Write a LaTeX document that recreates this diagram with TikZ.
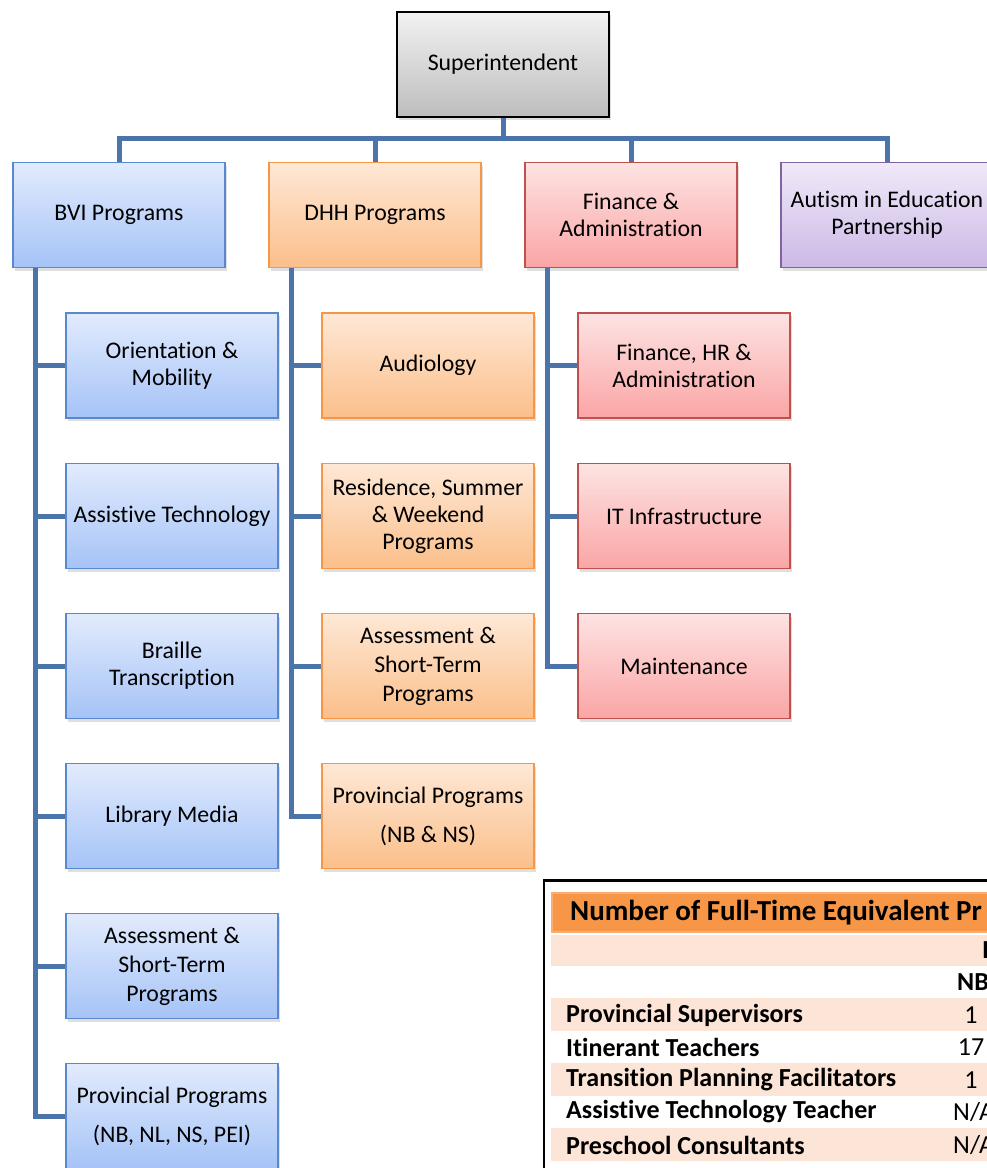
\documentclass[tikz,border=0pt]{standalone}
\usepackage{fontspec}
\setmainfont{Carlito}[Ligatures=NoCommon]
\usetikzlibrary{shadows}
\definecolor{linecol}{HTML}{4A74AA}
\definecolor{bluetop}{HTML}{E2EBFD}
\definecolor{bluebot}{HTML}{A5C3F7}
\definecolor{bluedraw}{HTML}{5A88CC}
\definecolor{orgtop}{HTML}{FEE8D6}
\definecolor{orgbot}{HTML}{FBBF8A}
\definecolor{orgdraw}{HTML}{F79646}
\definecolor{redtop}{HTML}{FDE3E3}
\definecolor{redbot}{HTML}{FBA5A5}
\definecolor{reddraw}{HTML}{C0504D}
\definecolor{purtop}{HTML}{F0E9F9}
\definecolor{purbot}{HTML}{CCB9E6}
\definecolor{purdraw}{HTML}{8064A2}
\definecolor{greytop}{HTML}{F2F2F2}
\definecolor{greybot}{HTML}{BDBDBD}
\definecolor{titlefill}{HTML}{F79646}
\definecolor{titledraw}{HTML}{F9AE74}
\definecolor{peach}{HTML}{FCE4D6}
\tikzset{
  box/.style={rectangle, minimum width=212pt, minimum height=105pt, align=center,
    font=\fontsize{23.8}{27}\selectfont, inner sep=2pt, line width=1.4pt,
    drop shadow={shadow xshift=2pt, shadow yshift=-3pt, opacity=0.25}},
  bluebox/.style={box, draw=bluedraw, top color=bluetop, bottom color=bluebot},
  orgbox/.style={box, draw=orgdraw, top color=orgtop, bottom color=orgbot},
  redbox/.style={box, draw=reddraw, top color=redtop, bottom color=redbot},
  purbox/.style={box, draw=purdraw, top color=purtop, bottom color=purbot},
  greybox/.style={box, draw=black, top color=greytop, bottom color=greybot},
  conn/.style={draw=linecol, line width=5pt},
  rowlab/.style={anchor=west, font=\fontsize{26}{30}\selectfont\bfseries, inner sep=0pt},
  rowval/.style={anchor=center, font=\fontsize{26}{30}\selectfont, inner sep=0pt},
}
\begin{document}
\begin{tikzpicture}[x=1pt,y=-1pt]
\useasboundingbox (0,0) rectangle (987,1168);
\clip (0,0) rectangle (987,1168);
\fill[white] (0,0) rectangle (987,1168);

\coordinate (busy) at (0,138);
\coordinate (bs) at (35,268);
\coordinate (ds) at (291,268);
\coordinate (fs) at (547,268);

% nodes
\node[greybox] (sup) at (503,64.5) {Superintendent};
\node[bluebox] (bvi) at (119,215) {BVI Programs};
\node[orgbox] (dhh) at (375,215) {DHH Programs};
\node[redbox] (fin) at (631,215) {Finance \&\\Administration};
\node[purbox] (aut) at (887,215) {Autism in Education\\Partnership};

\node[bluebox] (b1) at (172,365.5) {Orientation \&\\Mobility};
\node[bluebox] (b2) at (172,516) {Assistive Technology};
\node[bluebox] (b3) at (172,666) {Braille\\Transcription};
\node[bluebox] (b4) at (172,816) {Library Media};
\node[bluebox,font=\fontsize{23.8}{29}\selectfont] (b5) at (172,966) {Assessment \&\\Short-Term\\Programs};
\node[bluebox] (b6) at (172,1116) {Provincial Programs\\[12pt](NB, NL, NS, PEI)};

\node[orgbox] (d1) at (428,365.5) {Audiology};
\node[orgbox] (d2) at (428,516) {Residence, Summer\\\& Weekend\\Programs};
\node[orgbox,font=\fontsize{23.8}{29}\selectfont] (d3) at (428,666) {Assessment \&\\Short-Term\\Programs};
\node[orgbox] (d4) at (428,816) {Provincial Programs\\[12pt](NB \& NS)};

\node[redbox] (f1) at (684,365.5) {Finance, HR \&\\Administration};
\node[redbox] (f2) at (684,516) {IT Infrastructure};
\node[redbox] (f3) at (684,666) {Maintenance};

% top-level connectors
\draw[conn] (bvi.north) -- (bvi.north |- busy) -| (aut.north);
\draw[conn] (sup.south) -- (sup.south |- busy);
\draw[conn] (dhh.north) -- (dhh.north |- busy);
\draw[conn] (fin.north) -- (fin.north |- busy);

% BVI spine
\draw[conn] (bs) |- (b6.west);
\foreach \n in {b1,b2,b3,b4,b5} \draw[conn] (\n.west) -- (\n.west -| bs);
% DHH spine
\draw[conn] (ds) |- (d4.west);
\foreach \n in {d1,d2,d3} \draw[conn] (\n.west) -- (\n.west -| ds);
% Finance spine
\draw[conn] (fs) |- (f3.west);
\foreach \n in {f1,f2} \draw[conn] (\n.west) -- (\n.west -| fs);

% table
\fill[peach] (551,935) rectangle (1000,966);
\fill[peach] (551,998) rectangle (1000,1031);
\fill[peach] (551,1063) rectangle (1000,1096);
\fill[peach] (551,1128) rectangle (1000,1161);
\draw[fill=titlefill, draw=titledraw, line width=2pt] (552,893) rectangle (1005,932);
\draw[line width=2.5pt] (544,1190) -- (544,880.5) -- (1010,880.5);
\node[anchor=west, inner sep=0pt, font=\fontsize{29}{32}\selectfont\bfseries] (ttl) at (570,913) {Number of Full-Time Equivalent Pr};
\node[anchor=west, inner sep=0pt, font=\fontsize{26}{30}\selectfont\bfseries] (hdr) at (982,950.5) {I};
\node[anchor=west, inner sep=0pt, font=\fontsize{26}{30}\selectfont\bfseries] (nb) at (957,982) {NB};
\node[rowlab] (r1) at (566,1015) {Provincial Supervisors};
\node[rowlab] (r2) at (566,1047) {Itinerant Teachers};
\node[rowlab] (r3) at (566,1080) {Transition Planning Facilitators};
\node[rowlab] (r4) at (566,1112) {Assistive Technology Teacher};
\node[rowlab] (r5) at (566,1145) {Preschool Consultants};
\node[rowval] (v1) at (971,1015) {1};
\node[rowval] (v2) at (971,1047) {17};
\node[rowval] (v3) at (971,1080) {1};
\node[anchor=west, inner sep=0pt, font=\fontsize{26}{30}\selectfont] (v4) at (953,1112) {N/A};
\node[anchor=west, inner sep=0pt, font=\fontsize{26}{30}\selectfont] (v5) at (953,1145) {N/A};
\end{tikzpicture}
\end{document}
